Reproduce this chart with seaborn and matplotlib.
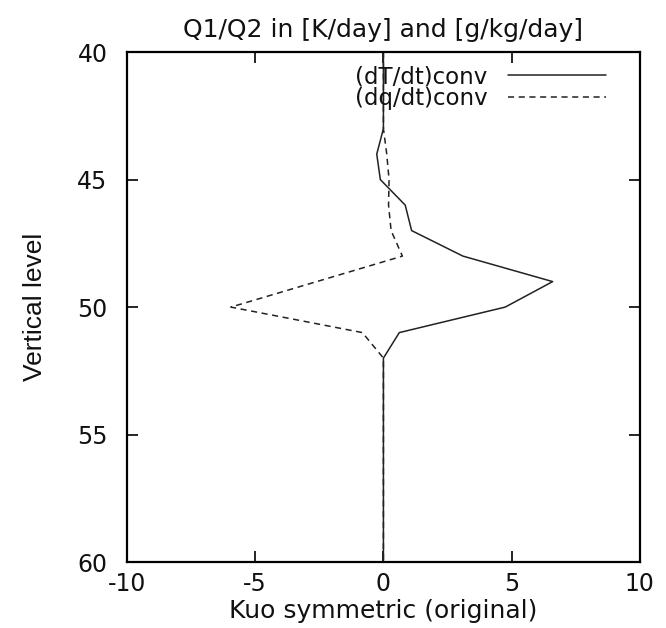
import numpy as np
import pandas as pd
import matplotlib
matplotlib.use("Agg")
import matplotlib.pyplot as plt
import seaborn as sns

# Vertical levels and convective tendencies (Kuo scheme, symmetric case)
levels = list(range(40, 61))
dTdt = [0, 0, 0, 0, -0.26, -0.12, 0.85, 1.1, 3.1, 6.6, 4.75, 0.62, 0,
        0, 0, 0, 0, 0, 0, 0, 0]
dqdt = [0, 0, 0, 0, 0.13, 0.22, 0.2, 0.3, 0.74, -2.6, -5.95, -0.82, 0,
        0, 0, 0, 0, 0, 0, 0, 0]
series_names = ["(dT/dt)conv", "(dq/dt)conv"]
xticks = [-10, -5, 0, 5, 10]
yticks = [40, 45, 50, 55, 60]

df = pd.concat([
    pd.DataFrame({"level": levels, "value": dTdt, "series": series_names[0]}),
    pd.DataFrame({"level": levels, "value": dqdt, "series": series_names[1]}),
])

sns.set_style("white")
plt.rcParams["font.family"] = ["DejaVu Sans"]
plt.rcParams["axes.unicode_minus"] = False

fig = plt.figure(figsize=(6.66, 6.28), dpi=100)
ax = fig.add_axes([0.1907, 0.105, 0.770, 0.812])

sns.lineplot(data=df, x="value", y="level", hue="series", style="series",
             sort=False, orient="y", estimator=None,
             palette=["#222222", "#222222"],
             dashes={series_names[0]: "", series_names[1]: (4, 3)},
             linewidth=1.1, ax=ax, legend=True)

ax.set_xlim(-10, 10)
ax.set_ylim(60, 40)
ax.set_xticks(xticks)
ax.set_yticks(yticks)
ax.tick_params(direction="in", length=8, width=1.2, top=True, right=True,
               bottom=True, left=True, labelsize=17, color="black",
               labelcolor="#111111")
ax.tick_params(axis="x", pad=7)
ax.tick_params(axis="y", pad=14)
for s in ax.spines.values():
    s.set_visible(True)
    s.set_linewidth(1.6)
    s.set_color("black")

ax.set_title("Q1/Q2 in [K/day] and [g/kg/day]", fontsize=18, pad=11,
             color="#111111")
ax.set_xlabel("Kuo symmetric (original)", fontsize=18, labelpad=2,
              color="#111111")
ax.set_ylabel("Vertical level", fontsize=19, labelpad=22, color="#111111",
              family=["Liberation Sans Narrow", "Liberation Sans", "DejaVu Sans"])

leg = ax.legend(loc="upper right", bbox_to_anchor=(0.935, 0.974),
                frameon=False, markerfirst=False,
                prop={"size": 16.5}, handlelength=4.3, handletextpad=0.9,
                labelspacing=-0.05, borderaxespad=0.0, borderpad=0.0)
for h in leg.get_lines():
    h.set_linewidth(1.1)
for t in leg.get_texts():
    t.set_color("#111111")

fig.savefig("out.png", dpi=100)
